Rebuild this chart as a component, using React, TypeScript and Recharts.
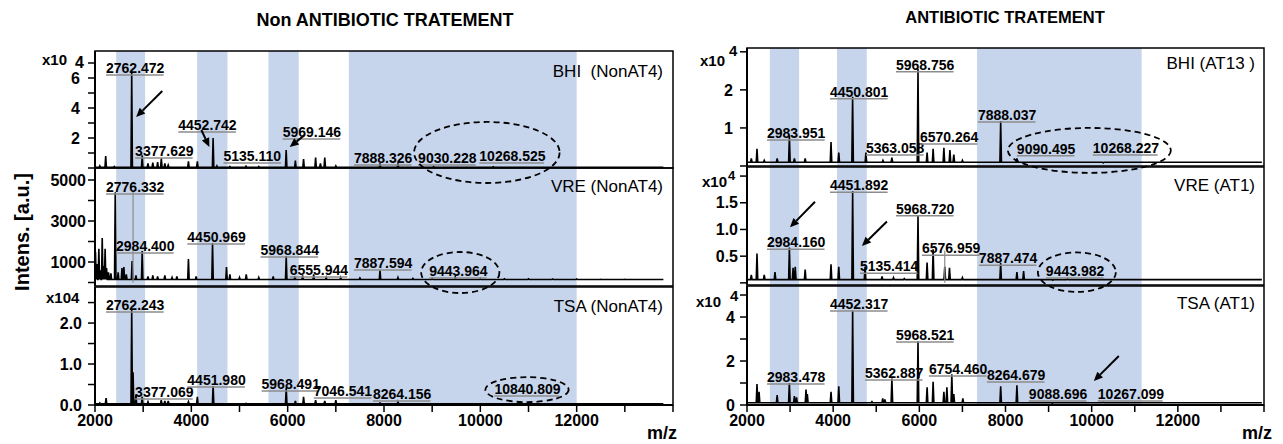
import React from 'react'
import {
  LineChart,
  Line,
  XAxis,
  YAxis,
  ReferenceArea,
  ReferenceLine,
  ReferenceDot,
} from 'recharts'

// shaded m/z windows
const leftBands = [
  [2440, 3040],
  [4120, 4750],
  [5600, 6230],
  [7270, 12000],
]
const rightBands = [
  [2530, 3210],
  [4090, 4780],
  [7340, 11160],
]

const xTicks = [2000, 3000, 4000, 5000, 6000, 7000, 8000, 9000, 10000, 11000, 12000, 13000, 14000]
const xTickLabels = [2000, 4000, 6000, 8000, 10000, 12000]

// ---- BHI (NonAT4), x10^4
const bhiNonMz = [2100, 2222, 2400, 2762, 2980, 3100, 3200, 3300, 3377, 3450, 3520, 3940, 4125, 4452, 4530, 4800, 5135, 5400, 5969, 6160, 6330, 6580, 6680, 6770, 7000, 7917, 8290, 9030, 10268]
const bhiNonInt = [0.15, 0.8, 0.1, 6.4, 0.85, 0.3, 0.35, 0.4, 0.65, 0.3, 0.2, 0.45, 0.45, 2.0, 0.15, 0.1, 0.12, 0.1, 1.2, 0.5, 0.6, 0.7, 0.3, 0.7, 0.15, 0.3, 0.3, 0.1, 0.08]
const bhiNonTicks = [0, 1, 2, 3, 4, 5, 6, 7]
const bhiNonTickLabels = [2, 4, 6]
const bhiNonLabels: [string, number, number][] = [
  ['2762.472', 2229, 6.67],
  ['3377.629', 2833, 1.13],
  ['4452.742', 3729, 2.87],
  ['5135.110', 4667, 0.8],
  ['5969.146', 5896, 2.4],
  ['7888.326', 7375, 0.67],
  ['9030.228', 8708, 0.67],
  ['10268.525', 9979, 0.8],
]

// ---- VRE (NonAT4), raw counts
const vreNonMz = [2010, 2040, 2080, 2110, 2150, 2180, 2210, 2240, 2280, 2330, 2420, 2480, 2560, 2600, 2650, 2770, 2850, 2980, 3100, 3200, 3300, 3450, 3600, 3700, 3940, 4100, 4440, 4730, 4800, 5000, 5140, 5400, 5700, 5970, 6150, 6310, 6540, 6800, 7100, 7500, 7917, 8290, 8600, 9000, 9480, 10000, 10500, 11000, 11500, 12000, 12500, 13000]
const vreNonInt = [1500, 900, 1650, 600, 2170, 800, 1650, 700, 500, 450, 4400, 500, 700, 750, 400, 1050, 350, 1530, 300, 350, 300, 350, 250, 300, 1150, 300, 1930, 750, 400, 250, 400, 250, 300, 1290, 300, 350, 400, 250, 250, 220, 600, 250, 200, 200, 270, 200, 180, 180, 170, 170, 160, 160]
const vreNonTicks = [0, 1000, 2000, 3000, 4000, 5000]
const vreNonTickLabels = [1000, 3000, 5000]
const vreNonLabels: [string, number, number][] = [
  ['2776.332', 2229, 4660],
  ['2984.400', 2437, 1781],
  ['4450.969', 3917, 2220],
  ['5968.844', 5437, 1586],
  ['6555.944', 6042, 610],
  ['7887.594', 7375, 952],
  ['9443.964', 8937, 561],
]

// ---- TSA (NonAT4), x10^4
const tsaNonMz = [2100, 2230, 2762, 2790, 2850, 2980, 3100, 3375, 3450, 3520, 3940, 4125, 4452, 5135, 5970, 6160, 6330, 6580, 6770, 7000, 7917, 8290, 10840]
const tsaNonInt = [0.05, 0.17, 2.34, 0.8, 0.25, 0.2, 0.08, 0.12, 0.1, 0.1, 0.08, 0.2, 0.46, 0.04, 0.42, 0.1, 0.2, 0.12, 0.1, 0.12, 0.05, 0.08, 0.03]
const tsaNonTicks = [0, 0.5, 1, 1.5, 2, 2.5]
const tsaNonTickLabels = [0, 1, 2]
const tsaNonLabels: [string, number, number][] = [
  ['2762.243', 2229, 2.44],
  ['3377.069', 2833, 0.32],
  ['4451.980', 3917, 0.61],
  ['5968.491', 5458, 0.51],
  ['7046.541', 6542, 0.34],
  ['8264.156', 7771, 0.27],
  ['10840.809', 10292, 0.39],
]

// ---- BHI (AT13), x10^4
const bhiAtMz = [2100, 2232, 2400, 2700, 2984, 3100, 3350, 3950, 4130, 4451, 4760, 5155, 5363, 5600, 5969, 6180, 6320, 6570, 6710, 6800, 7000, 7888, 8265, 9090, 10268]
const bhiAtInt = [0.2, 0.45, 0.15, 0.2, 0.8, 0.2, 0.2, 0.63, 0.35, 1.82, 0.35, 0.15, 0.22, 0.1, 2.55, 0.35, 0.45, 0.48, 0.42, 0.3, 0.15, 1.18, 0.2, 0.1, 0.08]
const bhiAtTicks = [0, 1, 2, 3]
const bhiAtTickLabels = [1, 2]
const bhiAtLabels: [string, number, number][] = [
  ['2983.951', 2464, 0.87],
  ['4450.801', 3926, 1.95],
  ['5968.756', 5457, 2.66],
  ['5363.058', 4761, 0.47],
  ['6570.264', 6014, 0.76],
  ['7888.037', 7359, 1.34],
  ['9090.495', 8264, 0.45],
  ['10268.227', 10027, 0.47],
]

// ---- VRE (AT1), x10^4
const vreAtMz = [2100, 2232, 2400, 2650, 2984, 3070, 3120, 3350, 3950, 4130, 4452, 4740, 5135, 5400, 5650, 5969, 6180, 6320, 6590, 6700, 7000, 7887, 8265, 8420, 9100, 9444, 10270]
const vreAtInt = [0.15, 0.55, 0.15, 0.2, 0.66, 0.28, 0.3, 0.25, 0.35, 0.3, 1.72, 0.3, 0.12, 0.1, 0.08, 1.26, 0.38, 0.63, 0.3, 0.28, 0.1, 0.37, 0.2, 0.22, 0.05, 0.08, 0.06]
const vreAtTicks = [0, 0.5, 1, 1.5, 2]
const vreAtTickLabels = [0.5, 1, 1.5]
const vreAtLabels: [string, number, number][] = [
  ['2984.160', 2464, 0.76],
  ['4451.892', 3926, 1.83],
  ['5968.720', 5457, 1.39],
  ['5135.414', 4622, 0.31],
  ['6576.959', 6060, 0.65],
  ['7887.474', 7382, 0.46],
  ['9443.982', 8937, 0.22],
]

// ---- TSA (AT1), x10^4
const tsaAtMz = [2232, 2280, 2700, 2983, 3100, 3150, 3370, 3400, 3950, 4130, 4452, 4900, 5150, 5200, 5363, 5969, 6180, 6320, 6570, 6640, 6754, 6800, 7010, 7888, 8265, 9088, 10267]
const tsaAtInt = [0.95, 0.6, 0.45, 1.0, 0.4, 0.35, 0.7, 0.5, 0.6, 0.85, 4.3, 0.15, 0.3, 0.25, 1.2, 2.9, 0.8, 1.05, 0.6, 0.8, 1.4, 0.5, 0.3, 0.85, 0.9, 0.08, 0.12]
const tsaAtTicks = [0, 1, 2, 3, 4, 5]
const tsaAtTickLabels = [0, 2, 4]
const tsaAtLabels: [string, number, number][] = [
  ['2983.478', 2464, 1.27],
  ['4452.317', 3926, 4.59],
  ['5968.521', 5457, 3.18],
  ['5362.887', 4738, 1.45],
  ['6754.460', 6222, 1.64],
  ['8264.679', 7568, 1.36],
  ['9088.696', 8542, 0.5],
  ['10267.099', 10143, 0.5],
]

const BAND = '#c6d5ec'

type Pt = { x: number; y: number }

function buildTrace(mz: number[], inten: number[], base: number, hw: number, end: number): Pt[] {
  const pts: Pt[] = [{ x: 2000, y: base }]
  mz.forEach((m, i) => {
    pts.push({ x: m - hw, y: base }, { x: m, y: inten[i] }, { x: m + hw, y: base })
  })
  pts.push({ x: end, y: base })
  return pts
}

const peakLabel = (text: string) => (p: any) => (
  <g>
    <line x1={p.cx} x2={p.cx + text.length * 7.2} y1={p.cy + 7} y2={p.cy + 7} stroke="#8c8c8c" strokeWidth={1.5} />
    <text x={p.cx} y={p.cy} dominantBaseline="central" fontSize={14} fontWeight={700} fill="#000">
      {text}
    </text>
  </g>
)

const ellipseShape = (p: any) => (
  <ellipse
    cx={p.x + p.width / 2}
    cy={p.y + p.height / 2}
    rx={Math.abs(p.width) / 2}
    ry={Math.abs(p.height) / 2}
    fill="none"
    stroke="#000"
    strokeWidth={1.8}
    strokeDasharray="6 4"
  />
)

const arrowShape = (p: any) => {
  const { x1, y1, x2, y2 } = p
  const a = Math.atan2(y2 - y1, x2 - x1)
  const bx = x2 - 9 * Math.cos(a)
  const by = y2 - 9 * Math.sin(a)
  const w = 4
  const pts = `${x2},${y2} ${bx - w * Math.sin(a)},${by + w * Math.cos(a)} ${bx + w * Math.sin(a)},${by - w * Math.cos(a)}`
  return (
    <g>
      <line x1={x1} y1={y1} x2={bx} y2={by} stroke="#000" strokeWidth={2} />
      <polygon points={pts} fill="#000" />
    </g>
  )
}

interface PanelProps {
  left: number
  top: number
  plotW: number
  plotH: number
  z: number
  yDomain: [number, number]
  yTicks: number[]
  yTickLabels: number[]
  fmt: (v: number) => string
  tickMargin: number
  data: Pt[]
  bands: number[][]
  labels: [string, number, number][]
  ellipse?: [number, number, number, number]
  arrows?: [number, number, number, number][]
  leaders?: [number, number, number][]
  bottomAxis?: boolean
}

function Spectrum(p: PanelProps) {
  const [y0, y1] = p.yDomain
  return (
    <div style={{ position: 'absolute', left: p.left - 60, top: p.top, zIndex: p.z }}>
      <LineChart
        width={p.plotW + 60}
        height={p.plotH + (p.bottomAxis ? 30 : 0)}
        data={p.data}
        margin={{ top: 0, right: 0, bottom: 0, left: 0 }}
      >
        {p.bands.map(([a, b], i) => (
          <ReferenceArea key={`b${i}`} x1={a} x2={b} y1={y0} y2={y1} fill={BAND} fillOpacity={1} stroke="none" zIndex={-50} />
        ))}
        <XAxis
          dataKey="x"
          type="number"
          domain={[2000, 14000]}
          allowDataOverflow
          ticks={xTicks}
          interval={0}
          height={p.bottomAxis ? 30 : 0}
          tick={p.bottomAxis ? { fill: '#000', fontSize: 16, fontWeight: 700 } : false}
          tickFormatter={(v: number) => (xTickLabels.includes(v) ? String(v) : '')}
          tickLine={p.bottomAxis ? { stroke: '#000', strokeWidth: 1.5 } : false}
          tickSize={7}
          tickMargin={3}
          axisLine={{ stroke: '#000', strokeWidth: 2 }}
        />
        <YAxis
          type="number"
          domain={p.yDomain}
          allowDataOverflow
          ticks={p.yTicks}
          interval={0}
          width={60}
          tick={{ fill: '#000', fontSize: 16, fontWeight: 700 }}
          tickFormatter={(v: number) => (p.yTickLabels.includes(v) ? p.fmt(v) : '')}
          tickLine={{ stroke: '#000', strokeWidth: 1.5 }}
          tickSize={7}
          tickMargin={p.tickMargin}
          axisLine={{ stroke: '#000', strokeWidth: 2 }}
        />
        <Line
          dataKey="y"
          type="linear"
          stroke="#000"
          strokeWidth={1.6}
          dot={false}
          activeDot={false}
          isAnimationActive={false}
        />
        {(p.leaders || []).map(([m, ya, yb], i) => (
          <ReferenceLine key={`l${i}`} segment={[{ x: m, y: ya }, { x: m, y: yb }]} stroke="#8c8c8c" strokeWidth={1.2} zIndex={450} />
        ))}
        <ReferenceArea x1={2000} x2={14000} y1={y0} y2={y1} fill="none" stroke="#000" strokeWidth={1.5} zIndex={550} />
        {p.labels.map(([t, m, v], i) => (
          <ReferenceDot key={`t${i}`} x={m} y={v} r={0} shape={peakLabel(t)} zIndex={650} />
        ))}
        {p.ellipse && (
          <ReferenceArea
            x1={p.ellipse[0]}
            x2={p.ellipse[1]}
            y1={p.ellipse[2]}
            y2={p.ellipse[3]}
            ifOverflow="visible"
            shape={ellipseShape}
            zIndex={700}
          />
        )}
        {(p.arrows || []).map(([xa, ya, xb, yb], i) => (
          <ReferenceLine key={`a${i}`} segment={[{ x: xa, y: ya }, { x: xb, y: yb }]} shape={arrowShape} zIndex={700} />
        ))}
      </LineChart>
    </div>
  )
}

const intFmt = (v: number) => String(v)
const oneDec = (v: number) => v.toFixed(1)

export default function App() {
  const LX = 95
  const LW = 578
  const RX = 747
  const RW = 517
  return (
    <div
      style={{
        position: 'absolute',
        left: 0,
        top: 0,
        width: 1283,
        height: 444,
        background: '#fff',
        fontFamily: "'Liberation Sans', Arial, sans-serif",
        overflow: 'hidden',
      }}
    >
      <style>{`.recharts-surface{overflow:visible}`}</style>

      <Spectrum
        left={LX} top={51} plotW={LW} plotH={117} z={6}
        yDomain={[0, 7.8]} yTicks={bhiNonTicks} yTickLabels={bhiNonTickLabels} fmt={intFmt} tickMargin={8}
        data={buildTrace(bhiNonMz, bhiNonInt, 0.05, 15, 13800)}
        bands={leftBands} labels={bhiNonLabels}
        ellipse={[8625, 11646, -1.0, 3.07]}
        arrows={[[3396, 5.13, 2854, 3.4], [4208, 2.53, 4375, 1.4], [6354, 2.2, 6042, 1.4]]}
      />
      <Spectrum
        left={LX} top={168} plotW={LW} plotH={118} z={5}
        yDomain={[-170, 5585]} yTicks={vreNonTicks} yTickLabels={vreNonTickLabels} fmt={intFmt} tickMargin={2}
        data={buildTrace(vreNonMz, vreNonInt, 150, 15, 13800)}
        bands={leftBands} labels={vreNonLabels}
        ellipse={[8771, 10396, -512, 1488]}
        leaders={[[2790, 4450, 0]]}
      />
      <Spectrum
        left={LX} top={287} plotW={LW} plotH={118} z={4}
        yDomain={[0, 2.88]} yTicks={tsaNonTicks} yTickLabels={tsaNonTickLabels} fmt={oneDec} tickMargin={6}
        data={buildTrace(tsaNonMz, tsaNonInt, 0.03, 15, 13800)}
        bands={leftBands} labels={tsaNonLabels}
        ellipse={[10104, 11833, 0.07, 0.68]}
        bottomAxis
      />

      <Spectrum
        left={RX} top={48} plotW={RW} plotH={118} z={6}
        yDomain={[0, 3.1]} yTicks={bhiAtTicks} yTickLabels={bhiAtTickLabels} fmt={intFmt} tickMargin={7}
        data={buildTrace(bhiAtMz, bhiAtInt, 0.1, 18, 13950)}
        bands={rightBands} labels={bhiAtLabels}
        ellipse={[8055, 11837, -0.18, 1.0]}
      />
      <Spectrum
        left={RX} top={167} plotW={RW} plotH={118} z={5}
        yDomain={[-0.04, 2.17]} yTicks={vreAtTicks} yTickLabels={vreAtTickLabels} fmt={oneDec} tickMargin={2}
        data={buildTrace(vreAtMz, vreAtInt, 0.06, 18, 13950)}
        bands={rightBands} labels={vreAtLabels}
        ellipse={[8751, 10561, -0.17, 0.57]}
        arrows={[[3578, 1.52, 2998, 1.04], [5248, 1.15, 4668, 0.69]]}
        leaders={[[6590, 0.6, 0]]}
      />
      <Spectrum
        left={RX} top={286} plotW={RW} plotH={119} z={4}
        yDomain={[0, 5.41]} yTicks={tsaAtTicks} yTickLabels={tsaAtTickLabels} fmt={intFmt} tickMargin={5}
        data={buildTrace(tsaAtMz, tsaAtInt, 0.1, 18, 13950)}
        bands={rightBands} labels={tsaAtLabels}
        arrows={[[10630, 2.23, 10050, 1.09]]}
        bottomAxis
      />

      <svg
        width={1283}
        height={444}
        style={{ position: 'absolute', left: 0, top: 0, zIndex: 20, pointerEvents: 'none' }}
      >
        <text x={385} y={20} textAnchor="middle" dominantBaseline="central" fontSize={18} fontWeight={700}>
          Non ANTIBIOTIC TRATEMENT
        </text>
        <text x={1005} y={17} textAnchor="middle" dominantBaseline="central" fontSize={16.5} fontWeight={700}>
          ANTIBIOTIC TRATEMENT
        </text>
        <text
          x={22}
          y={232}
          textAnchor="middle"
          dominantBaseline="central"
          fontSize={20}
          fontWeight={700}
          transform="rotate(-90 22 232)"
        >
          Intens. [a.u.]
        </text>
        <text x={662} y={433} textAnchor="middle" dominantBaseline="central" fontSize={18} fontWeight={700}>m/z</text>
        <text x={1257} y={433} textAnchor="middle" dominantBaseline="central" fontSize={18} fontWeight={700}>m/z</text>

        <text x={663} y={71} textAnchor="end" dominantBaseline="central" fontSize={17} style={{ whiteSpace: 'pre' }}>
          {'BHI\u00a0\u00a0(NonAT4)'}
        </text>
        <text x={663} y={186} textAnchor="end" dominantBaseline="central" fontSize={17}>VRE (NonAT4)</text>
        <text x={663} y={306} textAnchor="end" dominantBaseline="central" fontSize={17}>TSA (NonAT4)</text>
        <text x={1255} y={63} textAnchor="end" dominantBaseline="central" fontSize={17}>BHI (AT13 )</text>
        <text x={1255} y={185} textAnchor="end" dominantBaseline="central" fontSize={17}>VRE (AT1)</text>
        <text x={1255} y={303} textAnchor="end" dominantBaseline="central" fontSize={17}>TSA (AT1)</text>

        <text x={42} y={59} dominantBaseline="central" fontSize={15} fontWeight={700}>x10</text>
        <text x={75} y={62} dominantBaseline="central" fontSize={16} fontWeight={700}>4</text>
        <text x={46} y={297} dominantBaseline="central" fontSize={15} fontWeight={700}>x104</text>
        <text x={700} y={60} dominantBaseline="central" fontSize={15} fontWeight={700}>x10</text>
        <text x={729} y={50} dominantBaseline="central" fontSize={15} fontWeight={700}>4</text>
        <text x={702} y={181} dominantBaseline="central" fontSize={15} fontWeight={700}>x10</text>
        <text x={728} y={175} dominantBaseline="central" fontSize={13} fontWeight={700}>4</text>
        <text x={696} y={301} dominantBaseline="central" fontSize={15} fontWeight={700}>x10</text>
        <text x={730} y={295} dominantBaseline="central" fontSize={15} fontWeight={700}>4</text>
      </svg>
    </div>
  )
}
